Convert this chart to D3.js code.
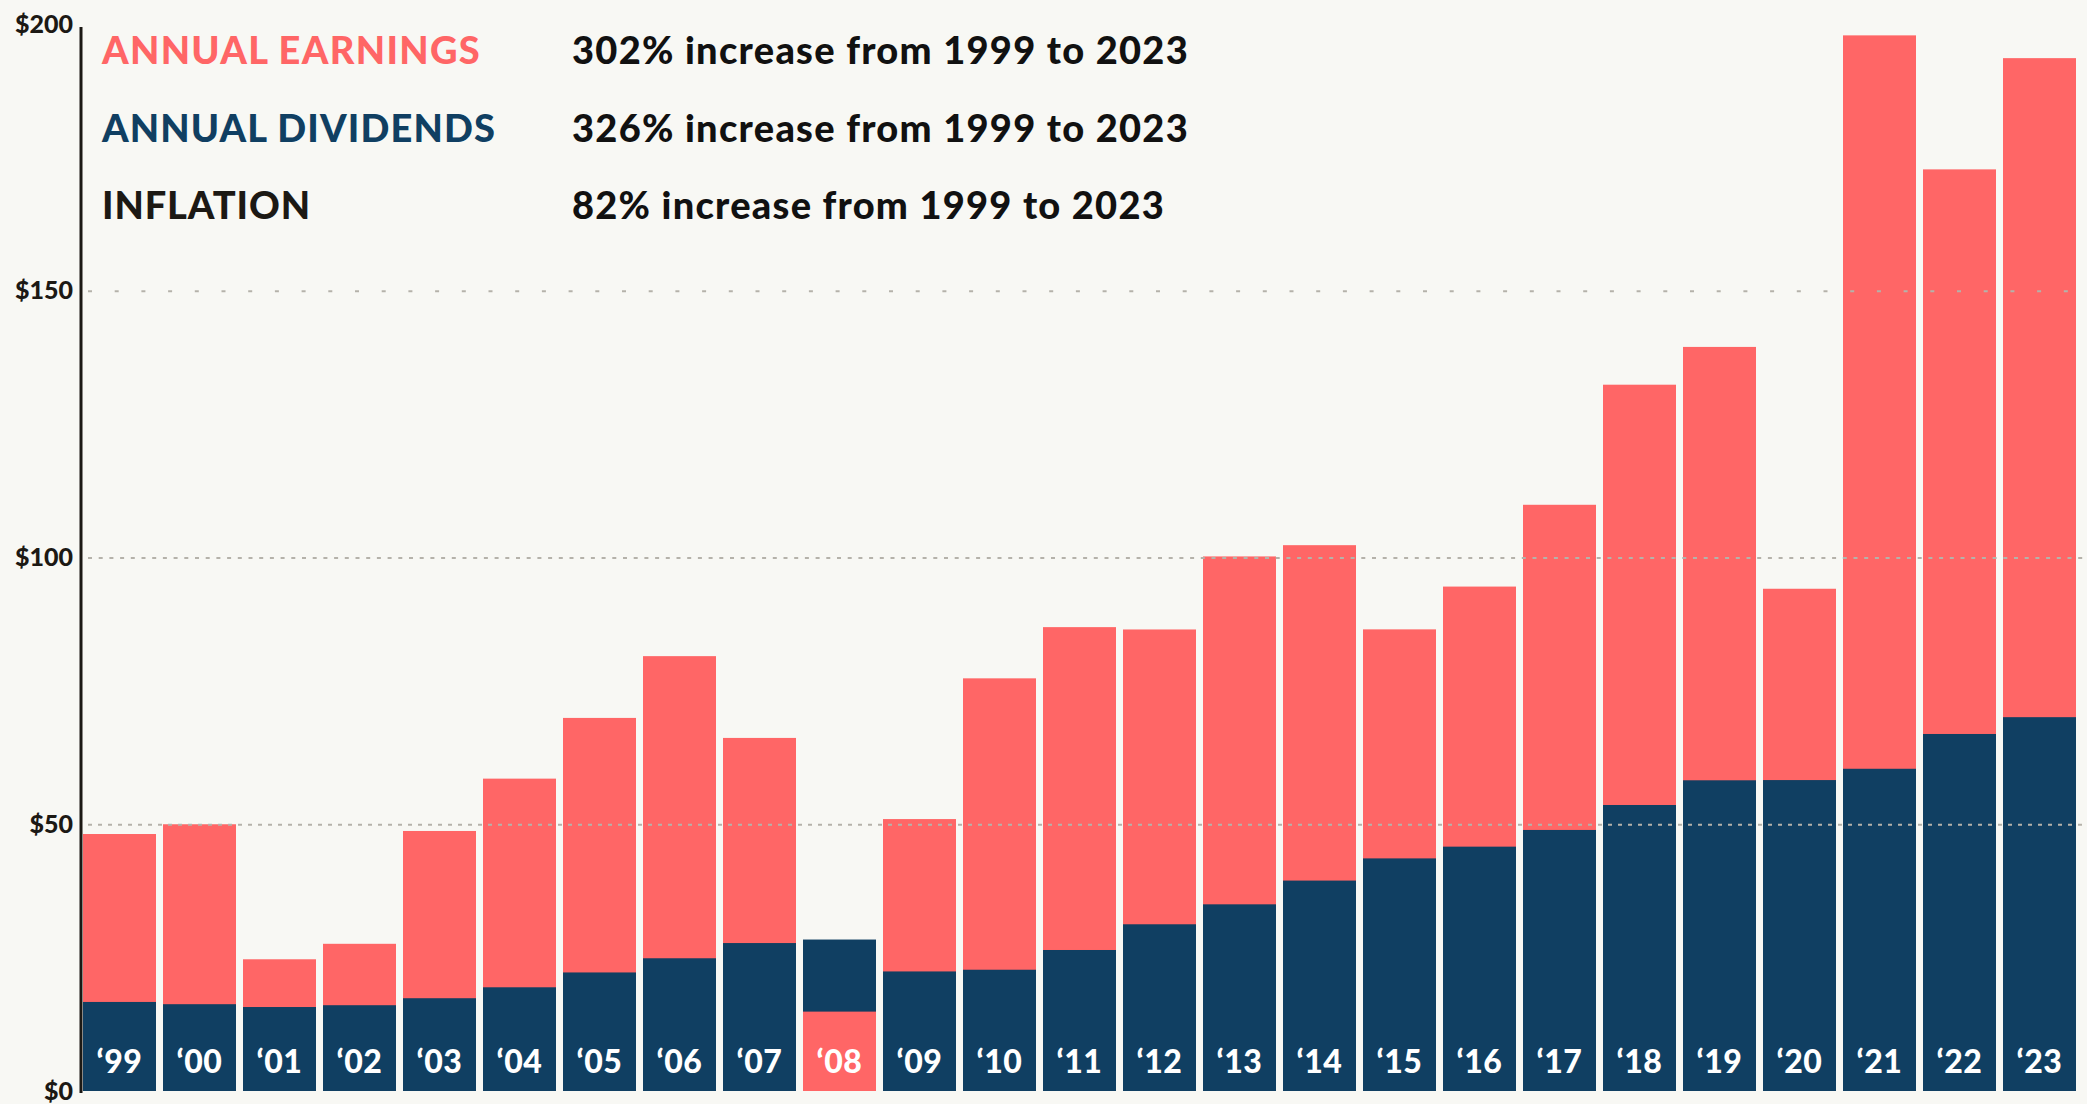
<!DOCTYPE html>
<html>
<head>
<meta charset="utf-8">
<script src="https://cdn.jsdelivr.net/npm/d3@7"></script>
<style>
  html, body { margin: 0; padding: 0; background: #F8F8F4; }
  svg { display: block; }
  text { font-family: Lato, "Open Sans", sans-serif; font-weight: 700; }
</style>
</head>
<body>
<script>
const years = ["'99","'00","'01","'02","'03","'04","'05","'06","'07","'08","'09","'10","'11","'12","'13","'14","'15","'16","'17","'18","'19","'20","'21","'22","'23"];
const earnings = [48.17,50.00,24.69,27.59,48.74,58.55,69.93,81.51,66.18,14.88,50.97,77.35,86.95,86.51,100.20,102.31,86.53,94.55,109.88,132.39,139.47,94.14,197.87,172.75,193.6];
const dividends = [16.69,16.27,15.74,16.08,17.39,19.44,22.22,24.88,27.73,28.39,22.41,22.73,26.43,31.25,34.99,39.44,43.6,45.8,48.93,53.61,58.24,58.28,60.40,66.92,70.07];
const yTicks = [0, 50, 100, 150, 200];
const gridTicks = [50, 100, 150];
const legendLabels = ["ANNUAL EARNINGS", "ANNUAL DIVIDENDS", "INFLATION"];
const legendNotes = ["302% increase from 1999 to 2023", "326% increase from 1999 to 2023", "82% increase from 1999 to 2023"];

const W = 2087, H = 1104;
const RED = "#FF6666", NAVY = "#103F62", INK = "#1C1914", GRID = "#B5B2AA";

const svg = d3.select("body").append("svg").attr("width", W).attr("height", H);
svg.append("rect").attr("width", W).attr("height", H).attr("fill", "#F8F8F4");

const x = d3.scaleBand().domain(years).range([83, 2076]).paddingInner(0.0875).paddingOuter(0);
const y = d3.scaleLinear().domain([0, 200]).range([1091, 24]);

const data = years.map((yr, i) => ({ yr, e: earnings[i], d: dividends[i] }));

// bars: larger value behind, smaller in front
const g = svg.append("g");
data.forEach(p => {
  const layers = [{ v: p.e, c: RED }, { v: p.d, c: NAVY }].sort((a, b) => b.v - a.v);
  layers.forEach(l => {
    g.append("rect")
      .attr("x", x(p.yr)).attr("width", x.bandwidth())
      .attr("y", y(l.v)).attr("height", y(0) - y(l.v))
      .attr("fill", l.c);
  });
});

// gridlines on top of bars
const dashes = { 50: "4 6", 100: "4 6.7", 150: "4 22.7" };
const grid = svg.append("g").attr("transform", "translate(84,0)")
  .call(d3.axisLeft(y).tickValues(gridTicks).tickSize(-(W - 84)).tickFormat(""));
grid.select(".domain").remove();
grid.selectAll(".tick line")
  .attr("stroke", GRID).attr("stroke-width", 2)
  .attr("stroke-dasharray", d => dashes[d])
  .attr("transform", "translate(4,0)");

// y axis
const yAxis = svg.append("g").attr("transform", "translate(81,0)")
  .call(d3.axisLeft(y).tickValues(yTicks).tickSize(0).tickPadding(8).tickFormat(d => "$" + d));
yAxis.select(".domain").remove();
yAxis.selectAll(".tick text")
  .attr("fill", INK).style("font-size", "25px").style("font-weight", 900)
  .attr("font-family", "Lato, sans-serif");
svg.append("line").attr("x1", 81).attr("x2", 81).attr("y1", 27).attr("y2", y(0) + 2)
  .attr("stroke", INK).attr("stroke-width", 3);

// year labels inside bars
svg.append("g").selectAll("text").data(data).join("text")
  .attr("x", d => x(d.yr) + x.bandwidth() / 2)
  .attr("y", 1073)
  .attr("text-anchor", "middle")
  .attr("fill", "#FFFFFF")
  .style("font-size", "32px").style("font-weight", 900)
  .style("letter-spacing", "0.5px")
  .text(d => d.yr.replace("'", "\u2018"));

// legend, fitted to the reference widths
const legendColors = [RED, NAVY, INK];
const rowsY = [64, 142, 219];
const labelWidths = [379, 394, 209];
const noteWidths = [617, 617, 593];
function fit(sel, target) {
  const n = sel.text().length;
  const w = sel.node().getComputedTextLength();
  sel.style("letter-spacing", ((target - w) / n) + "px");
}
legendLabels.forEach((t, i) => {
  const a = svg.append("text").attr("x", 102).attr("y", rowsY[i])
    .attr("fill", legendColors[i]).style("font-size", "38px").style("font-weight", 900)
    .text(t);
  fit(a, labelWidths[i]);
  const b = svg.append("text").attr("x", 572).attr("y", rowsY[i])
    .attr("fill", "#111111").style("font-size", "38px").style("font-weight", 900)
    .text(legendNotes[i]);
  fit(b, noteWidths[i]);
});
</script>
</body>
</html>
